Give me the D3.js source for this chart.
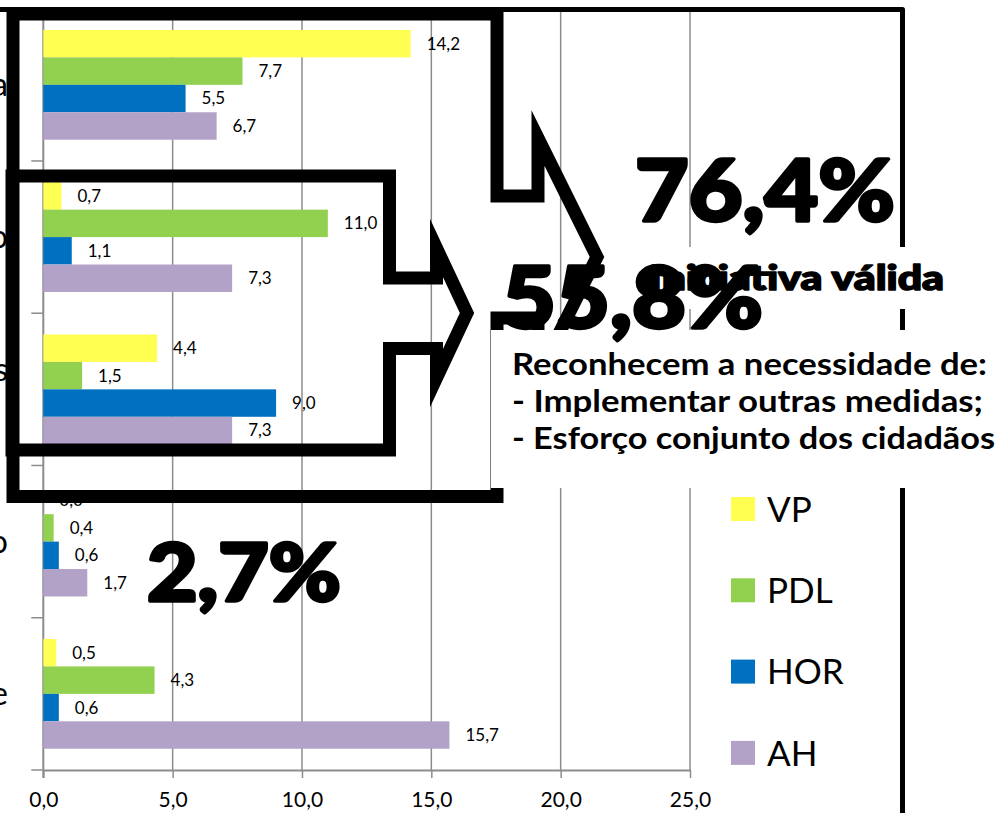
<!DOCTYPE html>
<html>
<head>
<meta charset="utf-8">
<script src="https://cdn.jsdelivr.net/npm/d3@7"></script>
<style>
  body { margin: 0; background: #fff; }
  svg { display: block; }
  .tick text { font-family: Lato, "Open Sans", sans-serif; }
</style>
</head>
<body>
<div id="chart"></div>
<script>
// Bar chart with callout arrows - VP / PDL / HOR / AH answers

// 1) Data
var categories = ["Iniciativa válida", "Necessário esforço conjunto", "Necessárias outras medidas|complementares", "Sem efeito", "Não sabe"];
var series = ["VP", "PDL", "HOR", "AH"];
var colors = ["#ffff52", "#92d050", "#0070c0", "#b3a2c7"];
var valuesVP = [14.2, 0.7, 4.4, 0.0, 0.5];
var valuesPDL = [7.7, 11.0, 1.5, 0.4, 4.3];
var valuesHOR = [5.5, 1.1, 9.0, 0.6, 0.6];
var valuesAH = [6.7, 7.3, 7.3, 1.7, 15.7];
var xTicks = [0, 5, 10, 15, 20, 25];
var callouts = ["76,4%", "55,8%", "2,7%"];
var validLabel = "Iniciativa válida";
var noteLines = ["Reconhecem a necessidade de:", "- Implementar outras medidas;", "- Esforço conjunto dos cidadãos"];

var seriesValues = [valuesVP, valuesPDL, valuesHOR, valuesAH];
var comma = function (v) { return d3.format(".1f")(v).replace(".", ","); };

// rows for the bars: one per category x series
var rows = [];
categories.forEach(function (c, i) {
   series.forEach(function (s, j) {
      rows.push({cat: i, serie: s, color: colors[j], value: seriesValues[j][i]});
   });
});

// 2) Chart
var width = 1000, height = 813;
var svg = d3.select("#chart").append("svg")
    .attr("width", width)
    .attr("height", height);

var x = d3.scaleLinear()
    .domain([0, 25])
    .range([43.3, 690]);

var y = d3.scaleBand()
    .domain(d3.range(categories.length))
    .range([8.7, 770]);

var ySerie = d3.scaleBand()
    .domain(series)
    .range([0, y.bandwidth()])
    .paddingInner(0)
    .paddingOuter(0.775);

var gray = "#8c8c8c";

// gridlines
svg.append("g")
    .selectAll("line")
    .data(xTicks.slice(1))
    .enter().append("line")
    .attr("x1", function (d) { return x(d); })
    .attr("x2", function (d) { return x(d); })
    .attr("y1", y.range()[0])
    .attr("y2", y.range()[1])
    .attr("stroke", gray)
    .attr("stroke-width", 1.5);

// x axis
var xAxis = svg.append("g")
    .attr("transform", "translate(0," + y.range()[1] + ")")
    .call(d3.axisBottom(x).tickValues(xTicks).tickFormat(comma).tickSize(8).tickSizeOuter(0).tickPadding(14));
xAxis.select(".domain").attr("stroke", gray).attr("stroke-width", 2);
xAxis.selectAll(".tick line").attr("stroke", gray).attr("stroke-width", 1.5);
xAxis.selectAll(".tick text").attr("font-size", 21).attr("fill", "#000");

// category axis (vertical line + boundary ticks)
svg.append("line")
    .attr("x1", x(0)).attr("x2", x(0))
    .attr("y1", y.range()[0]).attr("y2", y.range()[1] + 8)
    .attr("stroke", gray).attr("stroke-width", 2);
svg.append("g")
    .selectAll("line")
    .data(d3.range(categories.length + 1))
    .enter().append("line")
    .attr("x1", x(0) - 12).attr("x2", x(0))
    .attr("y1", function (d) { return y.range()[0] + d * y.step(); })
    .attr("y2", function (d) { return y.range()[0] + d * y.step(); })
    .attr("stroke", gray).attr("stroke-width", 1.5);

// category labels (cropped at the left edge, wrapped lines centred)
var catLabel = svg.append("g")
    .attr("font-family", "Lato, 'Open Sans', sans-serif")
    .attr("font-size", 32)
    .selectAll("text")
    .data(categories)
    .enter().append("text")
    .attr("text-anchor", "middle");
catLabel.each(function (c, i) {
   var lines = c.split("|");
   var t = d3.select(this);
   var cy = y(i) + y.bandwidth() / 2 - (lines.length - 1) * 0.6 * 32;
   lines.forEach(function (l, k) {
      t.append("tspan").attr("y", cy + k * 1.2 * 32).attr("dy", "0.35em").text(l);
   });
   var w = t.select("tspan").node().getComputedTextLength();
   t.selectAll("tspan").attr("x", 8 - w / 2);
});

// bars
svg.append("g")
    .selectAll("rect")
    .data(rows)
    .enter().append("rect")
    .attr("x", x(0))
    .attr("y", function (d) { return y(d.cat) + ySerie(d.serie); })
    .attr("width", function (d) { return x(d.value) - x(0); })
    .attr("height", ySerie.bandwidth())
    .attr("fill", function (d) { return d.color; });

// data labels
svg.append("g")
    .attr("font-family", "Lato, 'Open Sans', sans-serif")
    .attr("font-size", 17)
    .selectAll("text")
    .data(rows)
    .enter().append("text")
    .attr("x", function (d) { return x(d.value) + 16; })
    .attr("y", function (d) { return y(d.cat) + ySerie(d.serie) + ySerie.bandwidth() / 2; })
    .attr("dy", "0.35em")
    .text(function (d) { return comma(d.value); });

// legend
var legend = svg.append("g")
    .attr("transform", "translate(731,497)")
    .selectAll("g")
    .data(series)
    .enter().append("g")
    .attr("transform", function (d, i) { return "translate(0," + (i * 81.3) + ")"; });
legend.append("rect")
    .attr("width", 24).attr("height", 24)
    .attr("fill", function (d, i) { return colors[i]; });
legend.append("text")
    .attr("x", 36).attr("y", 12).attr("dy", "0.36em")
    .attr("font-family", "Lato, 'Open Sans', sans-serif")
    .attr("font-size", 35)
    .text(function (d) { return d; });

// chart frame (top and right edges visible)
svg.append("path")
    .attr("d", "M-10,9.5 H902.5 V830")
    .attr("fill", "none")
    .attr("stroke", "#000")
    .attr("stroke-width", 5)
    .attr("stroke-linejoin", "round");

// 3) Overlays: arrows, callouts, text boxes
var line = d3.line();
var arrowBig = [[13,14],[497,14],[497,196],[538,196],[538,138],[597,257],[538,376],[538,318],[497,318],[497,496.5],[13,496.5]];
var arrowSmall = [[12,176],[389.5,176],[389.5,278],[436.5,278],[436.5,248],[467,313],[436.5,378],[436.5,348.5],[389.5,348.5],[389.5,450],[12,450]];
svg.selectAll(".arrow")
    .data([arrowBig, arrowSmall])
    .enter().append("path")
    .attr("class", "arrow")
    .attr("d", function (d) { return line(d) + "Z"; })
    .attr("fill", "none")
    .attr("stroke", "#000")
    .attr("stroke-width", 13)
    .attr("stroke-miterlimit", 10);

var heavy = "Lato, Inter, Roboto, 'DejaVu Sans', sans-serif";

// heavy black text; a stroke thickens the glyphs towards an Arial Black look
var bigText = function (txt, px, py, size, len, thick) {
   return svg.append("text")
      .attr("x", px).attr("y", py)
      .attr("font-family", heavy)
      .attr("font-weight", 900)
      .attr("font-size", size)
      .attr("textLength", len)
      .attr("lengthAdjust", "spacingAndGlyphs")
      .attr("stroke", "#000")
      .attr("stroke-width", thick)
      .attr("stroke-linejoin", "round")
      .text(txt);
};

bigText(callouts[0], 635, 221, 86, 260, 3.5);

// white box behind "Iniciativa válida"
svg.append("rect").attr("x", 640).attr("y", 247).attr("width", 370).attr("height", 62).attr("fill", "#fff");
bigText(validLabel, 649, 290, 35, 295, 1.6);

// white note box
svg.append("rect").attr("x", 491).attr("y", 330).attr("width", 520).attr("height", 158).attr("fill", "#fff");
var noteLens = [475, 471, 483];
svg.append("g")
    .attr("font-family", "Lato, 'Open Sans', sans-serif")
    .attr("font-weight", 700)
    .attr("font-size", 31)
    .selectAll("text")
    .data(noteLines)
    .enter().append("text")
    .attr("x", 512)
    .attr("y", function (d, i) { return 375 + i * 37; })
    .attr("textLength", function (d, i) { return noteLens[i]; })
    .attr("lengthAdjust", "spacingAndGlyphs")
    .text(function (d) { return d; });

bigText(callouts[1], 502, 328, 86, 261, 3.5);
bigText(callouts[2], 147, 601, 80, 194, 3.5);
</script>
</body>
</html>
